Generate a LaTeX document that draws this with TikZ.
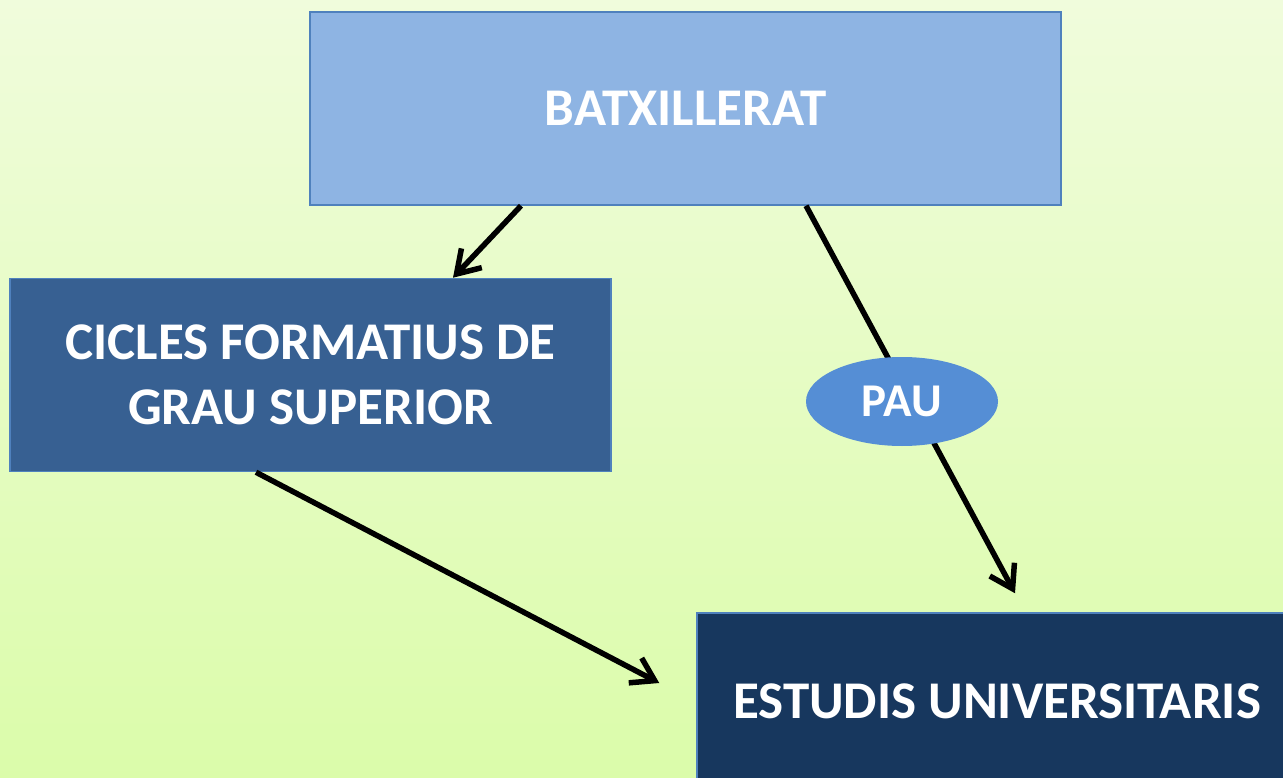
\documentclass[tikz,border=0pt]{standalone}
\usepackage{fontspec}
\setmainfont{Carlito}
\usepackage{xcolor}
\usepackage{tikz}
\usetikzlibrary{positioning,arrows.meta,shapes.geometric}

\definecolor{bgtop}{HTML}{F0FCDC}
\definecolor{bgbottom}{HTML}{DBFCAA}
\definecolor{batxfill}{HTML}{8EB4E3}
\definecolor{boxline}{HTML}{4F81BD}
\definecolor{ciclesfill}{HTML}{376092}
\definecolor{estudisfill}{HTML}{17375E}
\definecolor{paufill}{HTML}{558ED5}

\tikzset{
  stagebox/.style={draw=boxline, line width=1.5pt, rectangle, text=white,
    font=\fontsize{53}{65}\selectfont\bfseries, align=center},
  pathline/.style={line width=5.5pt, -{Straight Barb[length=22pt, width=28pt, line width=5.5pt]}}
}

\begin{document}
\begin{tikzpicture}[x=1pt, y=-1pt]
              % Background
              \shade[top color=bgtop, bottom color=bgbottom] (0,0) rectangle (1283,778);
              \useasboundingbox (0,0) rectangle (1283,778);

              % Draw the three boxes
              \node[stagebox, fill=batxfill, minimum width=751pt, minimum height=193pt] (batx) at (685.5, 108.5) {BATXILLERAT};
              \node[stagebox, fill=ciclesfill, minimum width=601pt, minimum height=193pt] (cicles) at (310.5, 375) {CICLES FORMATIUS DE\\GRAU SUPERIOR};
              \node[stagebox, fill=estudisfill, minimum width=600pt, minimum height=176pt] (estudis) at (997, 701) {ESTUDIS UNIVERSITARIS};

              % Draw arrows between the boxes
              \draw[pathline] ([xshift=-164.5pt]batx.south) -- ([xshift=142.5pt]cicles.north);
              \draw[pathline] ([xshift=120.5pt]batx.south) -- ([xshift=18pt, yshift=19pt]estudis.north);
              \draw[pathline] ([xshift=-54.5pt]cicles.south) -- ([xshift=-37pt, yshift=18pt]estudis.west);

              % Label on the right arrow
              \node[ellipse, fill=paufill, minimum width=192pt, minimum height=89pt, inner sep=0pt, text=white, font=\fontsize{47}{50}\selectfont\bfseries] (pau) at (902, 401.5) {PAU};
        \end{tikzpicture}
\end{document}
